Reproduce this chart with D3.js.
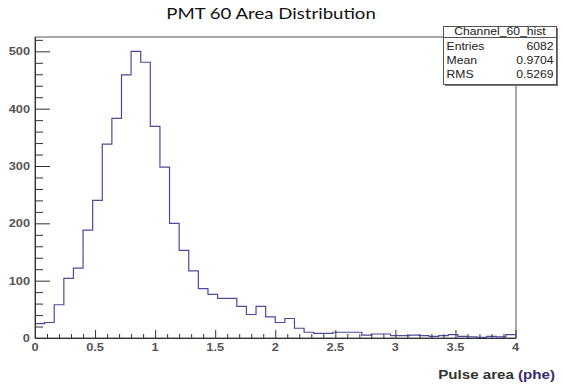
<!DOCTYPE html>
<html><head><meta charset="utf-8">
<script src="https://cdn.jsdelivr.net/npm/d3@7"></script>
<style>body{margin:0;background:#fff}svg{display:block}</style>
</head><body>
<svg id="c" width="563" height="387"></svg>
<script>
const title = "PMT 60 Area Distribution";
const xTitleMain = "Pulse area ";
const xTitleUnit = "(phe)";
const binLow = 0, binHigh = 4;
const counts = [25,27,58,104,122,188,240,338,383,459,500,481,369,298,200,153,117,86,76,69,69,55,41,55,37,27,34,17,10,8,8,10,10,10,5,7,7,4,4,5,4,3,4,6,3,2,1,3,2,6];
const xTicks = [0,0.5,1,1.5,2,2.5,3,3.5,4];
const xTickLabels = ["0","0.5","1","1.5","2","2.5","3","3.5","4"];
const yTicks = [0,100,200,300,400,500];
const statName = "Channel_60_hist";
const statLabels = ["Entries","Mean","RMS"];
const statValues = ["6082","0.9704","0.5269"];

const svg = d3.select("#c");
const L = 35, R = 516, T = 37, B = 338;
const SX = 1.22;
const x = d3.scaleLinear().domain([binLow, binHigh]).range([L, 515.5]);
const y = d3.scaleLinear().domain([0, 525]).range([B, T]);
const sf = "'Liberation Sans', Arial, sans-serif";

function stext(parent, px, py, anchor, sx) {
  return parent.append("g").attr("transform", `translate(${px},${py}) scale(${sx},1)`)
    .append("text").attr("x",0).attr("y",0).attr("text-anchor",anchor);
}

// title
stext(svg, 271, 19, "middle", 1.2)
  .attr("font-family","Lato, 'Open Sans', sans-serif").attr("font-size", 15.5)
  .attr("fill","#111").text(title);

// frame
svg.append("rect").attr("x", L).attr("y", T).attr("width", R-L).attr("height", B-T)
  .attr("fill","none").attr("stroke","#555").attr("stroke-width",1);

// histogram step
const bw = (binHigh-binLow)/counts.length;
const pts = counts.map((c,i)=>[binLow+i*bw, c]);
pts.push([binHigh, counts[counts.length-1]]);
const line = d3.line().x(d=>x(d[0])).y(d=>y(d[1])).curve(d3.curveStepAfter);
svg.append("path").attr("d", line(pts)).attr("fill","none")
  .attr("stroke","#4b4ba0").attr("stroke-width",1.2);

// y axis (ticks inside)
const yMinor = d3.range(0, 521, 20);
const ya = svg.append("g");
ya.selectAll("line.mi").data(yMinor).join("line")
  .attr("x1", L).attr("x2", d=> d%100===0 ? L+15 : L+8)
  .attr("y1", d=>y(d)+0.5).attr("y2", d=>y(d)+0.5)
  .attr("stroke","#333").attr("stroke-width",1);
ya.append("line").attr("x1",L+0.5).attr("x2",L+0.5).attr("y1",T).attr("y2",B).attr("stroke","#333");
yTicks.forEach(d=>{
  stext(ya, 30, y(d)+4, "end", SX)
    .attr("font-family",sf).attr("font-size",10.5)
    .attr("font-weight","bold").attr("fill","#555").text(d);
});

// x axis
const xMinor = d3.range(0, 41).map(i=>i/10);
const xa = svg.append("g");
xa.selectAll("line").data(xMinor).join("line")
  .attr("x1", d=>x(d)+0.5).attr("x2", d=>x(d)+0.5)
  .attr("y1", B).attr("y2", (d,i)=> i%5===0 ? B-8 : B-4)
  .attr("stroke","#333").attr("stroke-width",1);
xa.append("line").attr("x1",L).attr("x2",R).attr("y1",B+0.5).attr("y2",B+0.5).attr("stroke","#333");
xTicks.forEach((d,i)=>{
  stext(xa, x(d), 351, "middle", SX)
    .attr("font-family",sf).attr("font-size",10.5)
    .attr("font-weight","bold").attr("fill","#555").text(xTickLabels[i]);
});

// x title
const xt = stext(svg, 555, 379, "end", 1.12)
  .attr("font-family",sf).attr("font-size",13.5).attr("font-weight","bold");
xt.append("tspan").attr("fill","#333").text(xTitleMain);
xt.append("tspan").attr("fill","#3a2a6e").text(xTitleUnit);

// stat box
const bx = 443.5, by = 26.5, bwid = 113, bh = 58;
svg.append("rect").attr("x",bx+1.5).attr("y",by+1.5).attr("width",bwid).attr("height",bh).attr("fill","#777");
svg.append("rect").attr("x",bx).attr("y",by).attr("width",bwid).attr("height",bh)
  .attr("fill","#fff").attr("stroke","#555").attr("stroke-width",1);
svg.append("line").attr("x1",bx).attr("x2",bx+bwid).attr("y1",37.5).attr("y2",37.5).attr("stroke","#555");
stext(svg, bx+bwid/2, 35, "middle", SX)
  .attr("font-family",sf).attr("font-size",10).attr("fill","#222").text(statName);
const rowY = [49.5, 64, 78];
statLabels.forEach((s,i)=>{
  stext(svg, bx+3, rowY[i], "start", SX).attr("font-family",sf)
    .attr("font-size",10).attr("fill","#222").text(s);
  stext(svg, bx+bwid-3, rowY[i], "end", SX)
    .attr("font-family",sf).attr("font-size",10).attr("fill","#222").text(statValues[i]);
});
</script>
</body></html>
